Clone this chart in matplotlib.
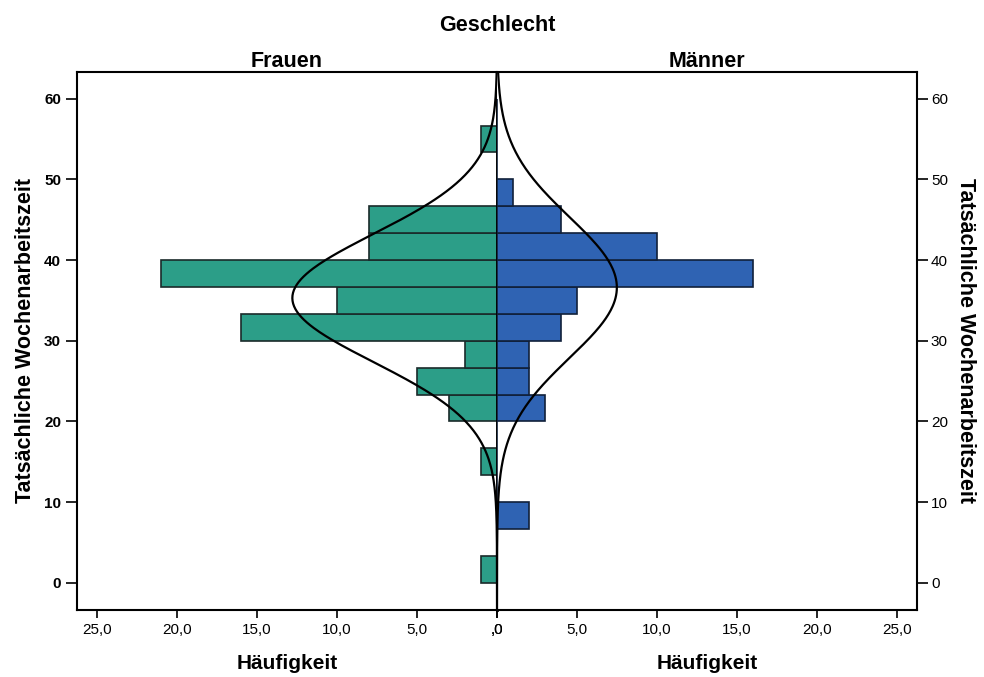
import numpy as np
import matplotlib.pyplot as plt

plt.rcParams['font.family'] = ['Liberation Sans', 'DejaVu Sans']

# Klassen der Wochenarbeitszeit (Breite 10/3 Stunden)
bin_edges = np.arange(0, 19) * 10 / 3
frauen = [1, 0, 0, 0, 1, 0, 3, 5, 2, 16, 10, 21, 8, 8, 0, 0, 1, 0]
maenner = [0, 0, 2, 0, 0, 0, 3, 2, 2, 4, 5, 16, 10, 4, 1, 0, 0, 0]

# Normalverteilungskurven
mu_frauen, sd_frauen = 35.3, 7.9
mu_maenner, sd_maenner = 36.6, 8.7

x_ticks = [0, 5, 10, 15, 20, 25]
x_labels = [',0', '5,0', '10,0', '15,0', '20,0', '25,0']
y_ticks = [0, 10, 20, 30, 40, 50, 60]

col_f = '#2c9e88'
col_m = '#2f63b3'

fig = plt.figure(figsize=(9.84, 6.77), dpi=100)
ax_l = fig.add_axes([0.0783, 0.099, 0.4268, 0.7947])
ax_r = fig.add_axes([0.5051, 0.099, 0.4268, 0.7947], sharey=ax_l)

width = bin_edges[1] - bin_edges[0]
bottoms = bin_edges[:-1]
ax_l.barh(bottoms, frauen, height=width, align='edge', color=col_f,
          edgecolor='#1a2a2a', linewidth=1.2)
ax_r.barh(bottoms, maenner, height=width, align='edge', color=col_m,
          edgecolor='#10203a', linewidth=1.2)

yy = np.linspace(-3.4, 63.4, 400)
n_f, n_m = sum(frauen), sum(maenner)
curve_f = n_f * width / (sd_frauen * np.sqrt(2 * np.pi)) * np.exp(-0.5 * ((yy - mu_frauen) / sd_frauen) ** 2)
curve_m = n_m * width / (sd_maenner * np.sqrt(2 * np.pi)) * np.exp(-0.5 * ((yy - mu_maenner) / sd_maenner) ** 2)
ax_l.plot(curve_f, yy, color='black', lw=1.6)
ax_r.plot(curve_m, yy, color='black', lw=1.6)

ax_l.set_xlim(26.25, 0)
ax_r.set_xlim(0, 26.25)
ax_l.set_ylim(-3.35, 63.3)

for ax in (ax_l, ax_r):
    ax.set_xticks(x_ticks)
    ax.set_xticklabels(x_labels, fontsize=11)
    ax.tick_params(axis='x', length=6, width=1.2, direction='out')
    for s in ax.spines.values():
        s.set_linewidth(1.5)
    ax.set_xlabel('Häufigkeit', fontsize=15, fontweight='bold', labelpad=12)

ax_l.set_yticks(y_ticks)
ax_l.tick_params(axis='y', length=8, width=1.2, labelsize=11)
for t in ax_l.get_yticklabels():
    t.set_fontweight('bold')
ax_r.tick_params(axis='y', left=False, labelleft=False, right=True, labelright=True,
                 length=8, width=1.2, labelsize=11, pad=2)
ax_r.spines['left'].set_visible(False)
ax_l.spines['right'].set_linewidth(2)

ax_l.set_ylabel('Tatsächliche Wochenarbeitszeit', fontsize=15.5, fontweight='bold', labelpad=6)
ax_r.yaxis.set_label_position('right')
ax_r.set_ylabel('Tatsächliche Wochenarbeitszeit', fontsize=15.5, fontweight='bold',
                rotation=-90, labelpad=20)

ax_l.set_title('Frauen', fontsize=15.5, fontweight='bold', pad=1)
ax_r.set_title('Männer', fontsize=15.5, fontweight='bold', pad=1)
fig.text(0.505, 0.962, 'Geschlecht', fontsize=15.5, fontweight='bold', ha='center', va='center')

fig.savefig('out.png', dpi=100)
